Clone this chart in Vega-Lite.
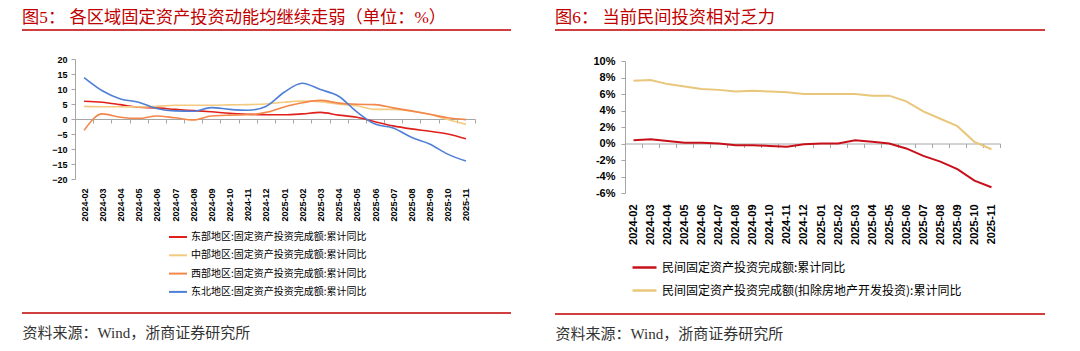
{
  "$schema": "https://vega.github.io/schema/vega-lite/v6.json",
  "padding": {"left": 17, "top": 8, "right": 5, "bottom": 5},
  "background": "white",
  "config": {"view": {"stroke": null}, "font": "Liberation Sans"},
  "resolve": {"scale": {"color": "independent"}, "legend": {"color": "independent"}},
  "datasets": {
    "regional": [
      {"month": "2024-02", "series": "东部地区:固定资产投资完成额:累计同比", "value": 5.9},
      {"month": "2024-03", "series": "东部地区:固定资产投资完成额:累计同比", "value": 5.6},
      {"month": "2024-04", "series": "东部地区:固定资产投资完成额:累计同比", "value": 4.8},
      {"month": "2024-05", "series": "东部地区:固定资产投资完成额:累计同比", "value": 3.9},
      {"month": "2024-06", "series": "东部地区:固定资产投资完成额:累计同比", "value": 3.7},
      {"month": "2024-07", "series": "东部地区:固定资产投资完成额:累计同比", "value": 3.2},
      {"month": "2024-08", "series": "东部地区:固定资产投资完成额:累计同比", "value": 2.8},
      {"month": "2024-09", "series": "东部地区:固定资产投资完成额:累计同比", "value": 2.4},
      {"month": "2024-10", "series": "东部地区:固定资产投资完成额:累计同比", "value": 1.9},
      {"month": "2024-11", "series": "东部地区:固定资产投资完成额:累计同比", "value": 1.6},
      {"month": "2024-12", "series": "东部地区:固定资产投资完成额:累计同比", "value": 1.4},
      {"month": "2025-01", "series": "东部地区:固定资产投资完成额:累计同比", "value": 1.4},
      {"month": "2025-02", "series": "东部地区:固定资产投资完成额:累计同比", "value": 1.7},
      {"month": "2025-03", "series": "东部地区:固定资产投资完成额:累计同比", "value": 2.2},
      {"month": "2025-04", "series": "东部地区:固定资产投资完成额:累计同比", "value": 1.3},
      {"month": "2025-05", "series": "东部地区:固定资产投资完成额:累计同比", "value": 0.6},
      {"month": "2025-06", "series": "东部地区:固定资产投资完成额:累计同比", "value": -0.9},
      {"month": "2025-07", "series": "东部地区:固定资产投资完成额:累计同比", "value": -2.3},
      {"month": "2025-08", "series": "东部地区:固定资产投资完成额:累计同比", "value": -3.3},
      {"month": "2025-09", "series": "东部地区:固定资产投资完成额:累计同比", "value": -4.1},
      {"month": "2025-10", "series": "东部地区:固定资产投资完成额:累计同比", "value": -5.0},
      {"month": "2025-11", "series": "东部地区:固定资产投资完成额:累计同比", "value": -6.6},
      {"month": "2024-02", "series": "中部地区:固定资产投资完成额:累计同比", "value": 4.2},
      {"month": "2024-03", "series": "中部地区:固定资产投资完成额:累计同比", "value": 4.1},
      {"month": "2024-04", "series": "中部地区:固定资产投资完成额:累计同比", "value": 4.1},
      {"month": "2024-05", "series": "中部地区:固定资产投资完成额:累计同比", "value": 4.0},
      {"month": "2024-06", "series": "中部地区:固定资产投资完成额:累计同比", "value": 4.2},
      {"month": "2024-07", "series": "中部地区:固定资产投资完成额:累计同比", "value": 4.6},
      {"month": "2024-08", "series": "中部地区:固定资产投资完成额:累计同比", "value": 4.6},
      {"month": "2024-09", "series": "中部地区:固定资产投资完成额:累计同比", "value": 4.6},
      {"month": "2024-10", "series": "中部地区:固定资产投资完成额:累计同比", "value": 4.7},
      {"month": "2024-11", "series": "中部地区:固定资产投资完成额:累计同比", "value": 4.8},
      {"month": "2024-12", "series": "中部地区:固定资产投资完成额:累计同比", "value": 5.0},
      {"month": "2025-01", "series": "中部地区:固定资产投资完成额:累计同比", "value": 5.6},
      {"month": "2025-02", "series": "中部地区:固定资产投资完成额:累计同比", "value": 6.0},
      {"month": "2025-03", "series": "中部地区:固定资产投资完成额:累计同比", "value": 5.8},
      {"month": "2025-04", "series": "中部地区:固定资产投资完成额:累计同比", "value": 4.9},
      {"month": "2025-05", "series": "中部地区:固定资产投资完成额:累计同比", "value": 4.4},
      {"month": "2025-06", "series": "中部地区:固定资产投资完成额:累计同比", "value": 3.2},
      {"month": "2025-07", "series": "中部地区:固定资产投资完成额:累计同比", "value": 3.2},
      {"month": "2025-08", "series": "中部地区:固定资产投资完成额:累计同比", "value": 2.6},
      {"month": "2025-09", "series": "中部地区:固定资产投资完成额:累计同比", "value": 1.6},
      {"month": "2025-10", "series": "中部地区:固定资产投资完成额:累计同比", "value": -0.2},
      {"month": "2025-11", "series": "中部地区:固定资产投资完成额:累计同比", "value": -1.8},
      {"month": "2024-02", "series": "西部地区:固定资产投资完成额:累计同比", "value": -3.8},
      {"month": "2024-03", "series": "西部地区:固定资产投资完成额:累计同比", "value": 1.7},
      {"month": "2024-04", "series": "西部地区:固定资产投资完成额:累计同比", "value": 0.6},
      {"month": "2024-05", "series": "西部地区:固定资产投资完成额:累计同比", "value": 0.2},
      {"month": "2024-06", "series": "西部地区:固定资产投资完成额:累计同比", "value": 1.0},
      {"month": "2024-07", "series": "西部地区:固定资产投资完成额:累计同比", "value": 0.4},
      {"month": "2024-08", "series": "西部地区:固定资产投资完成额:累计同比", "value": -0.3},
      {"month": "2024-09", "series": "西部地区:固定资产投资完成额:累计同比", "value": 1.0},
      {"month": "2024-10", "series": "西部地区:固定资产投资完成额:累计同比", "value": 1.3},
      {"month": "2024-11", "series": "西部地区:固定资产投资完成额:累计同比", "value": 1.4},
      {"month": "2024-12", "series": "西部地区:固定资产投资完成额:累计同比", "value": 2.2},
      {"month": "2025-01", "series": "西部地区:固定资产投资完成额:累计同比", "value": 4.0},
      {"month": "2025-02", "series": "西部地区:固定资产投资完成额:累计同比", "value": 5.4},
      {"month": "2025-03", "series": "西部地区:固定资产投资完成额:累计同比", "value": 6.2},
      {"month": "2025-04", "series": "西部地区:固定资产投资完成额:累计同比", "value": 5.3},
      {"month": "2025-05", "series": "西部地区:固定资产投资完成额:累计同比", "value": 4.9},
      {"month": "2025-06", "series": "西部地区:固定资产投资完成额:累计同比", "value": 4.8},
      {"month": "2025-07", "series": "西部地区:固定资产投资完成额:累计同比", "value": 3.7},
      {"month": "2025-08", "series": "西部地区:固定资产投资完成额:累计同比", "value": 2.7},
      {"month": "2025-09", "series": "西部地区:固定资产投资完成额:累计同比", "value": 1.6},
      {"month": "2025-10", "series": "西部地区:固定资产投资完成额:累计同比", "value": 0.4},
      {"month": "2025-11", "series": "西部地区:固定资产投资完成额:累计同比", "value": -0.2},
      {"month": "2024-02", "series": "东北地区:固定资产投资完成额:累计同比", "value": 13.8},
      {"month": "2024-03", "series": "东北地区:固定资产投资完成额:累计同比", "value": 9.4},
      {"month": "2024-04", "series": "东北地区:固定资产投资完成额:累计同比", "value": 6.7},
      {"month": "2024-05", "series": "东北地区:固定资产投资完成额:累计同比", "value": 5.6},
      {"month": "2024-06", "series": "东北地区:固定资产投资完成额:累计同比", "value": 3.5},
      {"month": "2024-07", "series": "东北地区:固定资产投资完成额:累计同比", "value": 2.7},
      {"month": "2024-08", "series": "东北地区:固定资产投资完成额:累计同比", "value": 2.6},
      {"month": "2024-09", "series": "东北地区:固定资产投资完成额:累计同比", "value": 3.8},
      {"month": "2024-10", "series": "东北地区:固定资产投资完成额:累计同比", "value": 3.2},
      {"month": "2024-11", "series": "东北地区:固定资产投资完成额:累计同比", "value": 2.9},
      {"month": "2024-12", "series": "东北地区:固定资产投资完成额:累计同比", "value": 4.2},
      {"month": "2025-01", "series": "东北地区:固定资产投资完成额:累计同比", "value": 8.9},
      {"month": "2025-02", "series": "东北地区:固定资产投资完成额:累计同比", "value": 11.9},
      {"month": "2025-03", "series": "东北地区:固定资产投资完成额:累计同比", "value": 9.8},
      {"month": "2025-04", "series": "东北地区:固定资产投资完成额:累计同比", "value": 7.6},
      {"month": "2025-05", "series": "东北地区:固定资产投资完成额:累计同比", "value": 2.4},
      {"month": "2025-06", "series": "东北地区:固定资产投资完成额:累计同比", "value": -1.7},
      {"month": "2025-07", "series": "东北地区:固定资产投资完成额:累计同比", "value": -3.0},
      {"month": "2025-08", "series": "东北地区:固定资产投资完成额:累计同比", "value": -6.1},
      {"month": "2025-09", "series": "东北地区:固定资产投资完成额:累计同比", "value": -8.3},
      {"month": "2025-10", "series": "东北地区:固定资产投资完成额:累计同比", "value": -11.7},
      {"month": "2025-11", "series": "东北地区:固定资产投资完成额:累计同比", "value": -14.0}
    ],
    "private": [
      {"month": "2024-02", "series": "民间固定资产投资完成额:累计同比", "value": 0.4},
      {"month": "2024-03", "series": "民间固定资产投资完成额:累计同比", "value": 0.5},
      {"month": "2024-04", "series": "民间固定资产投资完成额:累计同比", "value": 0.3},
      {"month": "2024-05", "series": "民间固定资产投资完成额:累计同比", "value": 0.1},
      {"month": "2024-06", "series": "民间固定资产投资完成额:累计同比", "value": 0.1},
      {"month": "2024-07", "series": "民间固定资产投资完成额:累计同比", "value": 0.0},
      {"month": "2024-08", "series": "民间固定资产投资完成额:累计同比", "value": -0.2},
      {"month": "2024-09", "series": "民间固定资产投资完成额:累计同比", "value": -0.2},
      {"month": "2024-10", "series": "民间固定资产投资完成额:累计同比", "value": -0.3},
      {"month": "2024-11", "series": "民间固定资产投资完成额:累计同比", "value": -0.4},
      {"month": "2024-12", "series": "民间固定资产投资完成额:累计同比", "value": -0.1},
      {"month": "2025-01", "series": "民间固定资产投资完成额:累计同比", "value": 0.0},
      {"month": "2025-02", "series": "民间固定资产投资完成额:累计同比", "value": 0.0},
      {"month": "2025-03", "series": "民间固定资产投资完成额:累计同比", "value": 0.4},
      {"month": "2025-04", "series": "民间固定资产投资完成额:累计同比", "value": 0.2},
      {"month": "2025-05", "series": "民间固定资产投资完成额:累计同比", "value": 0.0},
      {"month": "2025-06", "series": "民间固定资产投资完成额:累计同比", "value": -0.6},
      {"month": "2025-07", "series": "民间固定资产投资完成额:累计同比", "value": -1.5},
      {"month": "2025-08", "series": "民间固定资产投资完成额:累计同比", "value": -2.2},
      {"month": "2025-09", "series": "民间固定资产投资完成额:累计同比", "value": -3.1},
      {"month": "2025-10", "series": "民间固定资产投资完成额:累计同比", "value": -4.5},
      {"month": "2025-11", "series": "民间固定资产投资完成额:累计同比", "value": -5.3},
      {"month": "2024-02", "series": "民间固定资产投资完成额(扣除房地产开发投资):累计同比", "value": 7.6},
      {"month": "2024-03", "series": "民间固定资产投资完成额(扣除房地产开发投资):累计同比", "value": 7.7},
      {"month": "2024-04", "series": "民间固定资产投资完成额(扣除房地产开发投资):累计同比", "value": 7.2},
      {"month": "2024-05", "series": "民间固定资产投资完成额(扣除房地产开发投资):累计同比", "value": 6.9},
      {"month": "2024-06", "series": "民间固定资产投资完成额(扣除房地产开发投资):累计同比", "value": 6.6},
      {"month": "2024-07", "series": "民间固定资产投资完成额(扣除房地产开发投资):累计同比", "value": 6.5},
      {"month": "2024-08", "series": "民间固定资产投资完成额(扣除房地产开发投资):累计同比", "value": 6.3},
      {"month": "2024-09", "series": "民间固定资产投资完成额(扣除房地产开发投资):累计同比", "value": 6.4},
      {"month": "2024-10", "series": "民间固定资产投资完成额(扣除房地产开发投资):累计同比", "value": 6.3},
      {"month": "2024-11", "series": "民间固定资产投资完成额(扣除房地产开发投资):累计同比", "value": 6.2},
      {"month": "2024-12", "series": "民间固定资产投资完成额(扣除房地产开发投资):累计同比", "value": 6.0},
      {"month": "2025-01", "series": "民间固定资产投资完成额(扣除房地产开发投资):累计同比", "value": 6.0},
      {"month": "2025-02", "series": "民间固定资产投资完成额(扣除房地产开发投资):累计同比", "value": 6.0},
      {"month": "2025-03", "series": "民间固定资产投资完成额(扣除房地产开发投资):累计同比", "value": 6.0},
      {"month": "2025-04", "series": "民间固定资产投资完成额(扣除房地产开发投资):累计同比", "value": 5.8},
      {"month": "2025-05", "series": "民间固定资产投资完成额(扣除房地产开发投资):累计同比", "value": 5.8},
      {"month": "2025-06", "series": "民间固定资产投资完成额(扣除房地产开发投资):累计同比", "value": 5.1},
      {"month": "2025-07", "series": "民间固定资产投资完成额(扣除房地产开发投资):累计同比", "value": 3.9},
      {"month": "2025-08", "series": "民间固定资产投资完成额(扣除房地产开发投资):累计同比", "value": 3.0},
      {"month": "2025-09", "series": "民间固定资产投资完成额(扣除房地产开发投资):累计同比", "value": 2.1},
      {"month": "2025-10", "series": "民间固定资产投资完成额(扣除房地产开发投资):累计同比", "value": 0.2},
      {"month": "2025-11", "series": "民间固定资产投资完成额(扣除房地产开发投资):累计同比", "value": -0.7}
    ]
  },
  "bounds": "flush",
  "spacing": 44,
  "hconcat": [
    {
      "width": 489, "height": 283,
      "view": {"stroke": "#c00000", "strokeWidth": 1.5, "strokeDash": [489, 283]},
      "title": {"text": "图5： 各区域固定资产投资动能均继续走弱（单位：%）", "anchor": "start", "frame": "group", "orient": "top", "offset": 4, "font": "Liberation Serif, Noto Sans CJK SC", "fontSize": 17.25, "fontWeight": "normal", "color": "#c00000"},
      "data": {"name": "regional"},
      "mark": {"type": "line", "interpolate": "monotone", "strokeWidth": 1.6},
      "encoding": {
        "x": {
          "field": "month", "type": "ordinal", "bandPosition": 0.5,
          "scale": {"type": "band", "paddingInner": 0, "paddingOuter": 0, "range": [53, 453]},
          "axis": {"orient": "bottom", "offset": -194, "tickBand": "extent", "domainColor": "#a6a6a6", "tickColor": "#a6a6a6", "tickSize": 4, "labelAngle": -90, "labelPadding": 65, "labelFont": "Liberation Sans", "labelFontWeight": "bold", "labelFontSize": 9, "labelColor": "#000000",
            "title": "资料来源：Wind，浙商证券研究所", "titleX": 0, "titleY": 213, "titleAlign": "left", "titleBaseline": "middle", "titleAngle": 0, "titleFont": "Liberation Serif, Noto Sans CJK SC", "titleFontSize": 15, "titleFontWeight": "normal", "titleColor": "#333333"}
        },
        "y": {
          "field": "value", "type": "quantitative",
          "scale": {"domain": [-20, 20], "nice": false, "range": [149, 29]},
          "axis": {"title": null, "offset": -53, "values": [-20, -15, -10, -5, 0, 5, 10, 15, 20], "grid": false, "domainColor": "#a6a6a6", "tickColor": "#a6a6a6", "tickSize": 4, "labelPadding": 4, "labelFontWeight": "bold", "labelFontSize": 9, "labelColor": "#000000"}
        },
        "color": {
          "field": "series", "type": "nominal",
          "scale": {
            "domain": ["东部地区:固定资产投资完成额:累计同比", "中部地区:固定资产投资完成额:累计同比", "西部地区:固定资产投资完成额:累计同比", "东北地区:固定资产投资完成额:累计同比"],
            "range": ["#e0201b", "#f3ca80", "#f3874a", "#4f7fd6"]
          },
          "legend": {"title": null, "orient": "none", "legendX": 146, "legendY": 197, "direction": "vertical", "symbolType": "stroke", "symbolSize": 324, "symbolStrokeWidth": 2, "labelFont": "Noto Sans CJK SC", "labelFontSize": 10, "labelColor": "#000000", "labelOffset": 3, "rowPadding": 3.3, "padding": 0, "labelLimit": 400}
        }
      }
    },
    {
      "width": 490, "height": 284,
      "view": {"stroke": "#c00000", "strokeWidth": 1.5, "strokeDash": [490, 284]},
      "title": {"text": "图6： 当前民间投资相对乏力", "anchor": "start", "frame": "group", "orient": "top", "offset": 4, "font": "Liberation Serif, Noto Sans CJK SC", "fontSize": 17.25, "fontWeight": "normal", "color": "#c00000"},
      "data": {"name": "private"},
      "mark": {"type": "line", "strokeWidth": 2},
      "encoding": {
        "x": {
          "field": "month", "type": "ordinal", "bandPosition": 0.5,
          "scale": {"type": "band", "paddingInner": 0, "paddingOuter": 0, "range": [70, 445]},
          "axis": {"orient": "bottom", "offset": -170.5, "tickBand": "extent", "domainColor": "#a6a6a6", "tickColor": "#a6a6a6", "tickSize": 4, "labelAngle": -90, "labelPadding": 56.5, "labelFont": "Liberation Sans", "labelFontWeight": "bold", "labelFontSize": 11, "labelColor": "#000000",
            "title": "资料来源：Wind，浙商证券研究所", "titleX": 0, "titleY": 189.5, "titleAlign": "left", "titleBaseline": "middle", "titleAngle": 0, "titleFont": "Liberation Serif, Noto Sans CJK SC", "titleFontSize": 15, "titleFontWeight": "normal", "titleColor": "#333333"}
        },
        "y": {
          "field": "value", "type": "quantitative",
          "scale": {"domain": [-6, 10], "nice": false, "range": [163, 31]},
          "axis": {"title": null, "offset": -70, "values": [-6, -4, -2, 0, 2, 4, 6, 8, 10], "labelExpr": "datum.value + '%'", "grid": false, "domainColor": "#a6a6a6", "tickColor": "#a6a6a6", "tickSize": 4, "labelPadding": 6, "labelFontWeight": "bold", "labelFontSize": 11, "labelColor": "#000000"}
        },
        "color": {
          "field": "series", "type": "nominal",
          "scale": {
            "domain": ["民间固定资产投资完成额:累计同比", "民间固定资产投资完成额(扣除房地产开发投资):累计同比"],
            "range": ["#c8101a", "#e8c77a"]
          },
          "legend": {"title": null, "orient": "none", "legendX": 76, "legendY": 224, "direction": "vertical", "symbolType": "stroke", "symbolSize": 576, "symbolStrokeWidth": 2.5, "labelFont": "Noto Sans CJK SC", "labelFontSize": 12, "labelColor": "#000000", "labelOffset": 4, "rowPadding": 3, "padding": 0, "labelLimit": 500}
        }
      }
    }
  ]
}
